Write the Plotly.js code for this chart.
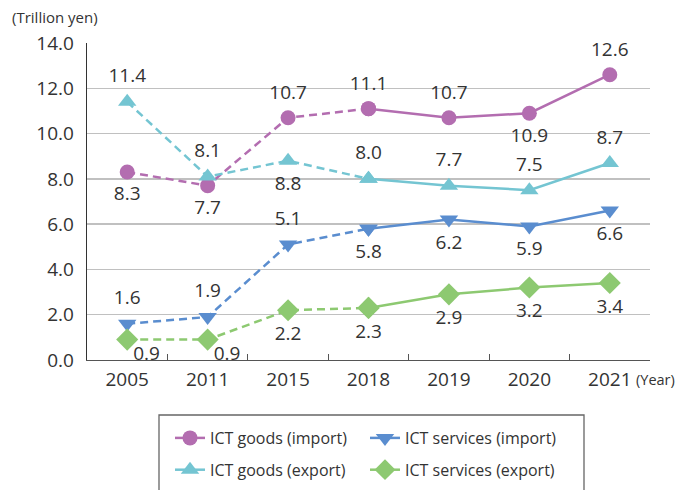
<!DOCTYPE html>
<html>
<head>
<meta charset="utf-8">
<script src="https://cdn.plot.ly/plotly-3.0.1.min.js"></script>
<style>html,body{margin:0;padding:0;background:#fff;}#chart{width:680px;height:490px;}</style>
</head>
<body>
<div id="chart"></div>
<script>
const years = ['2005','2011','2015','2018','2019','2020','2021'];
const goodsImport   = [8.3, 7.7, 10.7, 11.1, 10.7, 10.9, 12.6];
const goodsExport   = [11.4, 8.1, 8.8, 8.0, 7.7, 7.5, 8.7];
const servImport    = [1.6, 1.9, 5.1, 5.8, 6.2, 5.9, 6.6];
const servExport    = [0.9, 0.9, 2.2, 2.3, 2.9, 3.2, 3.4];
const yTicks = [0, 2, 4, 6, 8, 10, 12, 14];

const posGI = ['bottom center','bottom center','top center','top center','top center','bottom center','top center'];
const posGE = ['top center','top center','bottom center','top center','top center','top center','top center'];
const posSI = ['top center','top center','top center','bottom center','bottom center','bottom center','bottom center'];
const posSE = ['bottom right','bottom right','bottom center','bottom center','bottom center','bottom center','bottom center'];

const FONT = 'Open Sans, Noto Sans, sans-serif';
const TXT = '#333333';
const splitIdx = 3; // dashed up to 2018, solid after

function series(name, vals, pos, color, symbol, msize, legendId, group) {
  const mk = {color: color, symbol: symbol, size: msize, line: {width: 0}};
  return [
    { // dashed segment
      x: years.slice(0, splitIdx + 1), y: vals.slice(0, splitIdx + 1),
      type: 'scatter', mode: 'lines+markers', showlegend: false, hoverinfo: 'skip',
      line: {color: color, width: 2.5, dash: '8px,5px'}, marker: mk, cliponaxis: false
    },
    { // solid segment (legend entry)
      x: years.slice(splitIdx), y: vals.slice(splitIdx), name: name,
      type: 'scatter', mode: 'lines+markers', legend: legendId, legendgroup: group,
      line: {color: color, width: 2.5}, marker: mk, cliponaxis: false
    },
    { // value labels (invisible marker only sets the text offset)
      x: years, y: vals, type: 'scatter', mode: 'markers+text', showlegend: false,
      text: vals.map(v => v.toFixed(1)), textposition: pos,
      textfont: {family: FONT, size: 19, color: TXT},
      marker: {size: pos.map(p => p === 'bottom right' ? 8 : msize + 6),
               color: 'rgba(255,255,255,0)', opacity: 0,
               line: {width: 0, color: 'rgba(255,255,255,0)'}},
      cliponaxis: false
    }
  ];
}

const traces = [].concat(
  series('ICT goods (import)', goodsImport, posGI, '#B36DB0', 'circle', 15, 'legend', 'a'),
  series('ICT goods (export)', goodsExport, posGE, '#74C5D2', 'triangle-up', 16, 'legend', 'b'),
  series('ICT services (import)', servImport, posSI, '#5A8DCF', 'triangle-down', 16, 'legend2', 'c'),
  series('ICT services (export)', servExport, posSE, '#8DC971', 'diamond', 17, 'legend2', 'd')
);

const H = 317; // plot height px
const legFont = {family: FONT, size: 16, color: TXT};

const layout = {
  width: 680, height: 490,
  margin: {l: 87, r: 30, t: 43, b: 130, autoexpand: false},
  paper_bgcolor: '#ffffff', plot_bgcolor: '#ffffff',
  font: {family: FONT, color: TXT},
  xaxis: {
    type: 'category', range: [-0.5, 6.5], tickvals: years,
    ticks: 'inside', tickson: 'boundaries', ticklen: 6, tickcolor: '#555555', tickwidth: 1,
    showline: true, linecolor: '#555555', linewidth: 1.3,
    showgrid: false, zeroline: false,
    tickfont: {family: FONT, size: 19, color: TXT},
    ticklabelstandoff: 2, fixedrange: true
  },
  yaxis: {
    range: [0, 14], tickvals: yTicks, ticktext: yTicks.map(v => v.toFixed(1)),
    showline: true, linecolor: '#333333', linewidth: 1.3,
    showgrid: true, gridcolor: '#c0c0c0', gridwidth: 1.5,
    zeroline: false, ticks: '',
    tickfont: {family: FONT, size: 19, color: TXT},
    ticklabelstandoff: 8, fixedrange: true
  },
  legend: {
    x: (170 - 87) / 563, y: -(421 - 360) / H, xanchor: 'left', yanchor: 'top',
    orientation: 'v', bgcolor: 'rgba(0,0,0,0)', borderwidth: 0,
    font: legFont, tracegroupgap: 8, itemwidth: 30
  },
  legend2: {
    x: (365 - 87) / 563, y: -(421 - 360) / H, xanchor: 'left', yanchor: 'top',
    orientation: 'v', bgcolor: 'rgba(0,0,0,0)', borderwidth: 0,
    font: legFont, tracegroupgap: 8, itemwidth: 30
  },
  shapes: [
    {type: 'path', xref: 'paper', yref: 'paper',
     path: 'M ' + ((159 - 87) / 563) + ' ' + (-(500 - 360) / H) +
           ' L ' + ((159 - 87) / 563) + ' ' + (-(415 - 360) / H) +
           ' L ' + ((584 - 87) / 563) + ' ' + (-(415 - 360) / H) +
           ' L ' + ((584 - 87) / 563) + ' ' + (-(500 - 360) / H),
     line: {color: '#666666', width: 1.3}}
  ],
  annotations: [
    {text: '(Trillion yen)', xref: 'paper', yref: 'paper', x: -(87 - 10) / 563, y: 1 + 26 / H,
     xanchor: 'left', yanchor: 'middle', showarrow: false,
     font: {family: FONT, size: 15, color: TXT}},
    {text: '(Year)', xref: 'paper', yref: 'paper', x: 1 - 16 / 563, y: -19 / H,
     xanchor: 'left', yanchor: 'middle', showarrow: false,
     font: {family: FONT, size: 14.5, color: TXT}}
  ],
  showlegend: true
};

Plotly.newPlot('chart', traces, layout, {displayModeBar: false, staticPlot: true});
</script>
</body>
</html>
